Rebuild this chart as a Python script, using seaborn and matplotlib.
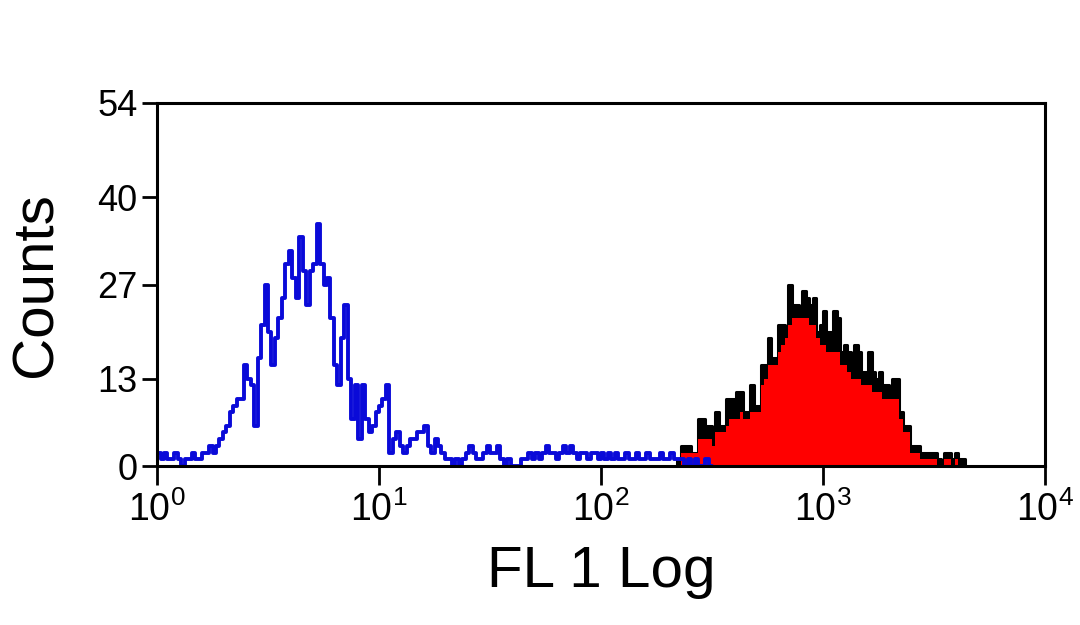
import matplotlib
matplotlib.use("Agg")
import matplotlib.pyplot as plt
import matplotlib.ticker as mticker
import seaborn as sns
import numpy as np

# 256 log channels spanning 10^0 .. 10^4
n_channels = 256
decades = 4

# blue (unstained) histogram, counts per channel from channel 0
blue_counts = [
    2, 1, 2, 1, 1, 2, 1, 0, 1, 1, 2, 1, 1, 2, 2, 3,
    2, 3, 4, 5, 6, 8, 9, 10, 10, 15, 13, 12, 6, 16, 21, 27,
    20, 15, 19, 22, 25, 30, 32, 28, 25, 34, 29, 24, 29, 30, 36, 30,
    27, 28, 22, 15, 12, 19, 24, 13, 7, 12, 4, 12, 7, 5, 6, 8,
    9, 10, 12, 2, 4, 5, 3, 2, 3, 4, 4, 5, 5, 6, 3, 2,
    4, 3, 2, 1, 1, 0, 1, 0, 1, 2, 3, 2, 1, 1, 2, 3,
    2, 2, 3, 1, 0, 1, 0, 0, 0, 1, 1, 2, 1, 2, 1, 2,
    3, 2, 2, 1, 2, 3, 2, 3, 2, 1, 2, 2, 1, 2, 2, 1,
    2, 1, 2, 1, 2, 1, 1, 2, 1, 1, 2, 1, 1, 2, 1, 1,
    1, 2, 1, 1, 2, 1, 1, 1, 0, 1, 0, 1, 0, 0, 1, 0,
]
blue_start = 0

# stained sample: raw counts (black outline) and the red filled layer
red_start = 150
red_outline = [
    1, 3, 3, 3, 2, 2, 7, 7, 6, 6,
    4, 8, 6, 6, 10, 10, 10, 11, 11, 8,
    8, 12, 9, 9, 15, 15, 19, 16, 16, 21,
    21, 20, 27, 24, 24, 23, 26, 25, 24, 25,
    20, 21, 23, 20, 20, 23, 22, 17, 18, 17,
    15, 18, 17, 14, 14, 17, 14, 13, 14, 12,
    12, 11, 13, 13, 8, 6, 6, 3, 3, 3,
    2, 2, 2, 2, 2, 1, 0, 2, 2, 1,
    2, 1, 1,
]
red_fill = [
    0, 2, 2, 2, 2, 2, 4, 4, 4, 4,
    3, 5, 5, 5, 6, 7, 7, 7, 8, 7,
    7, 8, 8, 8, 12, 13, 15, 15, 15, 17,
    18, 19, 21, 22, 22, 22, 22, 22, 21, 21,
    19, 18, 18, 17, 17, 17, 17, 15, 15, 14,
    13, 13, 13, 12, 12, 12, 11, 11, 11, 10,
    10, 10, 10, 10, 7, 5, 5, 2, 2, 2,
    1, 1, 1, 1, 1, 0, 0, 1, 1, 0,
    1, 0, 0,
]

y_ticks = [0, 13, 27, 40, 54]
x_ticks = [1, 10, 100, 1000, 10000]

sns.set_style("ticks")
plt.rcParams["font.family"] = ["Liberation Sans", "DejaVu Sans"]
plt.rcParams["mathtext.default"] = "regular"
for key in ["text.color", "axes.labelcolor", "xtick.color", "ytick.color"]:
    plt.rcParams[key] = "black"

step = decades / n_channels
# channel centres in data units
centers = 10 ** ((np.arange(n_channels) + 0.5) * step)


def hist_args(start, values):
    # x positions and bin layout covering only this series' channels
    return dict(x=centers[start:start + len(values)], weights=values,
                bins=len(values),
                binrange=(start * step, (start + len(values)) * step))


fig = plt.figure(figsize=(10.8, 6.25), dpi=100)
ax = fig.add_axes([0.1454, 0.2544, 0.8222, 0.5808])

common = dict(log_scale=True, element="step", ax=ax)

sns.histplot(**hist_args(blue_start, blue_counts), fill=False,
             color="#0a0ad8", linewidth=2.8, **common)
sns.histplot(**hist_args(red_start, red_outline), fill=True, color="black",
             edgecolor="black", alpha=1, linewidth=2.2, **common)
sns.histplot(**hist_args(red_start, red_fill), fill=True, color="#ff0000",
             alpha=1, linewidth=0, **common)

ax.set_xlim(1, 10000)
ax.set_ylim(0, 54)
ax.set_yticks(y_ticks)
ax.set_xticks(x_ticks)
ax.xaxis.set_minor_locator(mticker.NullLocator())
ax.xaxis.set_major_formatter(mticker.LogFormatterSciNotation())

for side in ["top", "right", "left", "bottom"]:
    ax.spines[side].set_visible(True)
    ax.spines[side].set_linewidth(2.2)
    ax.spines[side].set_color("black")
    ax.spines[side].set_zorder(10)

ax.tick_params(axis="y", direction="out", length=11, width=2, labelsize=26, pad=3)
ax.tick_params(axis="x", direction="out", length=14, width=2, labelsize=27, pad=4)

ax.set_xlabel("FL 1 Log", fontsize=42, labelpad=12)
ax.set_ylabel("Counts", fontsize=42, labelpad=24)

plt.savefig("out.png", dpi=100)
